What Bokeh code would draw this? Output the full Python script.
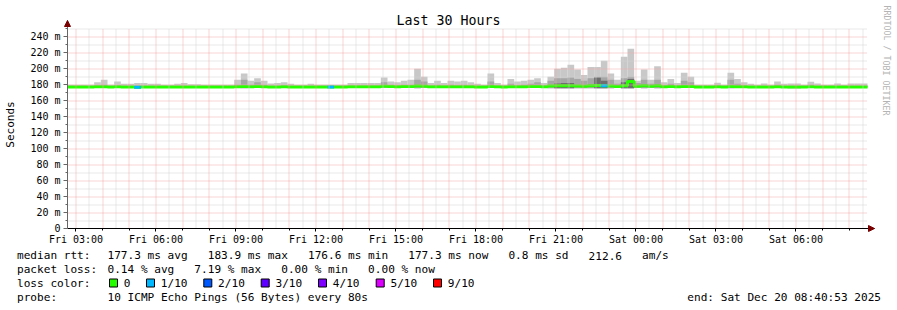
import re
import math
import datetime as dt
from bokeh.plotting import figure
from bokeh.models import (Range1d, FixedTicker, DatetimeTickFormatter, CustomJSTickFormatter,
                          Label, Arrow, NormalHead, BoxAnnotation)
from bokeh.embed import file_html
from bokeh.resources import INLINE

# ---------------- data ----------------
start = dt.datetime(2025, 12, 19, 2, 40, 53)
end = dt.datetime(2025, 12, 20, 8, 40, 53)
bin_minutes = 15  # 120 bins over 30 hours

# smoke (ping distribution) upper edge, ms
smoke_max = [
    180, 180, 180, 180, 183, 186, 180, 184, 181, 181,
    182, 182, 181, 181, 180, 180, 181, 182, 180.5, 180.5,
    180, 180, 180, 180, 180, 186, 194, 185, 188, 185,
    181.5, 182, 183, 181, 180, 180, 181, 180, 180, 180,
    180, 180, 182, 182, 182, 182, 182, 189, 184, 183,
    185, 186, 200, 190, 182, 185, 182, 185, 184, 185,
    183, 181, 180, 194, 182, 180, 187, 184, 185, 186,
    188, 182, 190, 200, 201, 205, 199, 192, 202, 202,
    210, 194, 186, 215, 225, 185, 199, 186, 203, 183,
    187, 182, 195, 190, 180, 180, 180, 182.5, 180, 195,
    187, 183, 181, 180, 181.5, 180, 184, 181, 181.5, 181.5,
    180, 183.5, 181.5, 180, 180, 181.5, 180, 181.5, 181.5, 181.5,
]
# denser inner part of the smoke, ms
smoke_mid = [
    178.5, 178.5, 178.5, 178.5, 179, 180, 178.5, 179, 178.5, 178.5,
    178.5, 178.5, 178.5, 178.5, 178.5, 178.5, 178.5, 178.5, 178.5, 178.5,
    178.5, 178.5, 178.5, 178.5, 178.5, 180, 186, 180, 183, 180,
    178.5, 178.5, 179, 178.5, 178.5, 178.5, 178.5, 178.5, 178.5, 178.5,
    178.5, 178.5, 178.5, 178.5, 178.5, 178.5, 178.5, 183, 180, 179,
    180, 180, 186, 184, 178.5, 180, 178.5, 180, 179, 180,
    179, 178.5, 178.5, 184, 178.5, 178.5, 181, 179, 180, 181,
    183, 179, 185, 188, 188, 189, 187, 185, 188, 190,
    190, 186, 181, 188, 190, 182, 186, 181, 186, 179,
    181, 179, 185, 183, 178.5, 178.5, 178.5, 179, 178.5, 186,
    181, 179, 178.5, 178.5, 178.5, 178.5, 180, 178.5, 178.5, 178.5,
    178.5, 180, 178.5, 178.5, 178.5, 178.5, 178.5, 178.5, 178.5, 178.5,
]
# densest core of the smoke, ms (equal to smoke_min where there is none)
smoke_dark = [
    176.5, 176.5, 176.5, 176.5, 176, 176, 176.5, 176, 176.5, 176.5,
    176, 176, 176.5, 176.5, 176.5, 176.5, 176.5, 176.5, 176.5, 176.5,
    176.5, 176.5, 176.5, 176.5, 176.5, 176, 175.5, 176, 176, 176,
    176.5, 176.5, 176.5, 176.5, 176.5, 176.5, 176.5, 176.5, 176.5, 176,
    176.5, 176.5, 176.5, 176.5, 176.5, 176.5, 176.5, 176, 176, 176,
    176, 176, 175.5, 176, 176.5, 176, 176.5, 176, 176, 176,
    176, 176.5, 176.5, 176, 176.5, 176.5, 176, 176, 176, 176,
    176, 176, 175.5, 181.5, 182, 182, 175.5, 175.5, 175.5, 189,
    185, 175.5, 176, 183, 187, 176, 175.5, 176, 175.5, 176,
    176, 176.5, 176, 176, 176.5, 176.5, 176.5, 176.5, 176.5, 175.5,
    176, 176.5, 176.5, 176.5, 176.5, 176.5, 176, 176.5, 175.5, 175.5,
    176.5, 176, 176.5, 176.5, 176.5, 176.5, 176.5, 176.5, 176.5, 176.5,
]
# smoke lower edge, ms
smoke_min = [
    176.5, 176.5, 176.5, 176.5, 176, 176, 176.5, 176, 176.5, 176.5,
    176, 176, 176.5, 176.5, 176.5, 176.5, 176.5, 176.5, 176.5, 176.5,
    176.5, 176.5, 176.5, 176.5, 176.5, 176, 175.5, 176, 176, 176,
    176.5, 176.5, 176.5, 176.5, 176.5, 176.5, 176.5, 176.5, 176.5, 176,
    176.5, 176.5, 176.5, 176.5, 176.5, 176.5, 176.5, 176, 176, 176,
    176, 176, 175.5, 176, 176.5, 176, 176.5, 176, 176, 176,
    176, 176.5, 176.5, 176, 176.5, 176.5, 176, 176, 176, 176,
    176, 176, 175.5, 175.5, 175.5, 175.5, 175.5, 175.5, 175.5, 175.5,
    175.5, 175.5, 176, 175.5, 175.5, 176, 175.5, 176, 175.5, 176,
    176, 176.5, 176, 176, 176.5, 176.5, 176.5, 176.5, 176.5, 175.5,
    176, 176.5, 176.5, 176.5, 176.5, 176.5, 176, 176.5, 175.5, 175.5,
    176.5, 176, 176.5, 176.5, 176.5, 176.5, 176.5, 176.5, 176.5, 176.5,
]
# median rtt, ms
median = [
    177.2, 177.2, 177.2, 177.2, 177.3, 177.3, 177.2, 177.3, 177.2, 177.2,
    176.8, 177.2, 177.2, 177.2, 177.2, 177.2, 177.2, 177.2, 177.2, 177.2,
    177.2, 177.0, 177.2, 177.2, 177.2, 177.5, 177.8, 177.5, 177.6, 177.4,
    177.2, 177.2, 177.3, 177.2, 177.2, 177.2, 177.2, 177.2, 177.2, 176.9,
    177.2, 177.2, 177.3, 177.3, 177.3, 177.3, 177.3, 178.0, 177.6, 177.5,
    177.6, 177.6, 178.2, 178.0, 177.3, 177.5, 177.3, 177.5, 177.4, 177.5,
    177.4, 177.2, 177.2, 177.6, 177.3, 177.2, 177.5, 177.4, 177.5, 177.6,
    177.8, 177.4, 178.2, 178.5, 178.5, 178.6, 178.3, 178.0, 178.5, 179.0,
    178.5, 178.2, 177.6, 178.5, 184.0, 178.0, 178.5, 178.0, 178.6, 177.5,
    177.6, 177.3, 177.8, 177.6, 177.2, 177.2, 177.2, 177.3, 177.2, 177.6,
    177.4, 177.3, 177.2, 177.2, 177.2, 177.2, 177.4, 177.2, 177.2, 177.2,
    177.2, 177.3, 177.2, 177.2, 177.2, 177.2, 177.2, 177.2, 177.2, 177.2,
]
# loss level per bin (index into loss_labels)
loss = [
    0, 0, 0, 0, 0, 0, 0, 0, 0, 0,
    1, 0, 0, 0, 0, 0, 0, 0, 0, 0,
    0, 0, 0, 0, 0, 0, 0, 0, 0, 0,
    0, 0, 0, 0, 0, 0, 0, 0, 0, 1,
    0, 0, 0, 0, 0, 0, 0, 0, 0, 0,
    0, 0, 0, 0, 0, 0, 0, 0, 0, 0,
    0, 0, 0, 0, 0, 0, 0, 0, 0, 0,
    0, 0, 0, 0, 0, 0, 0, 0, 0, 0,
    1, 0, 0, 0, 0, 0, 0, 0, 0, 0,
    0, 0, 0, 0, 0, 0, 0, 0, 0, 0,
    0, 0, 0, 0, 0, 0, 0, 0, 0, 0,
    0, 0, 0, 0, 0, 0, 0, 0, 0, 0,
]
loss_labels = ["0", "1/10", "2/10", "3/10", "4/10", "5/10", "9/10"]
loss_colors = ["#26ff00", "#00b8ff", "#0059ff", "#5e00ff", "#7e00ff", "#dd00ff", "#ff0000"]

y_ticks = [0, 20, 40, 60, 80, 100, 120, 140, 160, 180, 200, 220, 240]
y_minor = [10, 30, 50, 70, 90, 110, 130, 150, 170, 190, 210, 230, 250]
y_top = 250

title_text = "Last 30 Hours"
y_label = "Seconds"
side_text = "RRDTOOL / TOBI OETIKER"
legend_heads = ["median rtt:", "packet loss:", "loss color:", "probe:"]
legend_bodies = [
    "177.3 ms avg   183.9 ms max   176.6 ms min   177.3 ms now   0.8 ms sd   212.6   am/s",
    "0.14 % avg   7.19 % max   0.00 % min   0.00 % now",
    "",
    "10 ICMP Echo Pings (56 Bytes) every 80s",
]
end_text = "end: Sat Dec 20 08:40:53 2025"

# ---------------- geometry ----------------
EPOCH = dt.datetime(1970, 1, 1)


def ms(d):
    return (d - EPOCH).total_seconds() * 1000.0


W, H = 897, 310
FL, FB = 67, 228           # x-axis start / x-axis height in canvas pixels
PX_PER_MS_Y = 0.7992       # vertical scale (pixels per millisecond of rtt)
PX_PER_HOUR = 800 / 30.0   # horizontal scale
MONO = "DejaVu Sans Mono"
CHAR_W = 0.602 * 11.1

t0, t1 = ms(start), ms(end)
hour_ms = 3600e3
x_lo = t0 - FL / PX_PER_HOUR * hour_ms
x_hi = t0 + (W - FL) / PX_PER_HOUR * hour_ms
y_lo = -(H - FB) / PX_PER_MS_Y
y_hi = FB / PX_PER_MS_Y


def snap_x(t):
    # move a vertical grid line onto a pixel centre so its dots stay crisp
    px = (t - x_lo) / hour_ms * PX_PER_HOUR
    return x_lo + (math.floor(px) + 0.5) / PX_PER_HOUR * hour_ms


def snap_y(v):
    py = FB - v * PX_PER_MS_Y
    return (FB - (math.floor(py) + 0.5)) / PX_PER_MS_Y


n = len(smoke_max)
edges = [ms(start + dt.timedelta(minutes=bin_minutes * i)) for i in range(n + 1)]
left = edges[:-1]
right = edges[1:]

p = figure(width=W, height=H, x_axis_type="datetime",
           x_range=Range1d(x_lo, x_hi), y_range=Range1d(y_lo, y_hi),
           output_backend="svg", toolbar_location=None,
           min_border_left=0, min_border_right=0, min_border_top=0, min_border_bottom=0)
p.title.visible = False
p.outline_line_color = None
p.background_fill_color = "white"
p.border_fill_color = "white"
p.xgrid.visible = False
p.ygrid.visible = False

# smoke
p.quad(left=left, right=right, bottom=smoke_min, top=smoke_max,
       fill_color="#c8c8c8", line_color=None)
p.quad(left=left, right=right, bottom=smoke_min, top=smoke_mid,
       fill_color="#a6a6a6", line_color=None)
p.quad(left=left, right=right, bottom=smoke_min, top=smoke_dark,
       fill_color="#6e6e6e", line_color=None)

# median line, coloured by loss
p.step(x=edges, y=median + [median[-1]], mode="after",
       line_color=loss_colors[0], line_width=3)
lx0 = [left[i] for i in range(n) if loss[i] > 0]
lx1 = [right[i] for i in range(n) if loss[i] > 0]
ly = [median[i] for i in range(n) if loss[i] > 0]
lc = [loss_colors[loss[i]] for i in range(n) if loss[i] > 0]
p.segment(x0=lx0, y0=ly, x1=lx1, y1=ly, line_color=lc, line_width=3)

# ---------------- grid (dotted, rrdtool style) ----------------
hour0 = dt.datetime(2025, 12, 19, 3, 0)
hours = [hour0 + dt.timedelta(hours=h) for h in range(30)]
hours = [h for h in hours if h <= end]
label_hours = [ms(h) for h in hours if h.hour % 3 == 0]
hours_ms = [ms(h) for h in hours]
half_ms = [ms(h + dt.timedelta(minutes=30)) for h in hours if h + dt.timedelta(minutes=30) < end]

gx_minor = [snap_x(t) for t in half_ms]
gx_major = [snap_x(t) for t in hours_ms]
gy_minor = [snap_y(v) for v in y_minor]
gy_major = [snap_y(v) for v in y_ticks[1:]]

minor_col, major_col = "#d2d2d2", "#f2a6a6"
p.segment(x0=gx_minor, x1=gx_minor, y0=[0] * len(gx_minor), y1=[y_top] * len(gx_minor),
          line_color=minor_col, line_dash="1 1", line_width=1)
p.segment(x0=[t0] * len(gy_minor), x1=[t1] * len(gy_minor), y0=gy_minor, y1=gy_minor,
          line_color=minor_col, line_dash="1 1", line_width=1)
p.segment(x0=gx_major, x1=gx_major, y0=[0] * len(gx_major), y1=[y_top] * len(gx_major),
          line_color=major_col, line_dash="1 1", line_width=1)
p.segment(x0=[t0] * len(gy_major), x1=[t1] * len(gy_major), y0=gy_major, y1=gy_major,
          line_color=major_col, line_dash="1 1", line_width=1)

# ---------------- axes (drawn at fixed positions inside the canvas) ----------------
arrow_x = t1 + 7 / PX_PER_HOUR * hour_ms
arrow_y = (FB - 20) / PX_PER_MS_Y
p.xaxis.fixed_location = 0
p.yaxis.fixed_location = t0
p.xaxis.ticker = FixedTicker(ticks=label_hours, minor_ticks=hours_ms)
fmt = "%a %H:%M"
p.xaxis.formatter = DatetimeTickFormatter(hours=fmt, hourmin=fmt, days=fmt, minutes=fmt,
                                          minsec=fmt, seconds=fmt, months=fmt)
p.xaxis.bounds = (t0, arrow_x)
p.yaxis.ticker = FixedTicker(ticks=y_ticks, minor_ticks=y_minor)
p.yaxis.formatter = CustomJSTickFormatter(code="return tick == 0 ? '0' : tick + ' m';")
p.yaxis.bounds = (0, arrow_y)

for ax in (p.xaxis[0], p.yaxis[0]):
    ax.major_label_text_font = MONO
    ax.major_label_text_font_size = "10px"
    ax.major_label_text_color = "black"
    ax.major_tick_in = 0
    ax.minor_tick_in = 0
p.xaxis.axis_line_color = "black"
p.xaxis.major_tick_line_color = "black"
p.xaxis.minor_tick_line_color = "black"
p.xaxis.major_tick_out = 3
p.xaxis.minor_tick_out = 2
p.xaxis.major_label_standoff = 2
p.yaxis.axis_line_color = "#666666"
p.yaxis.major_tick_line_color = "#666666"
p.yaxis.minor_tick_line_color = "#666666"
p.yaxis.major_tick_out = 4
p.yaxis.minor_tick_out = 2
p.yaxis.major_label_standoff = 3
p.yaxis.axis_label = y_label
p.yaxis.axis_label_text_font = MONO
p.yaxis.axis_label_text_font_size = "11px"
p.yaxis.axis_label_text_font_style = "normal"
p.yaxis.axis_label_text_color = "black"
p.yaxis.axis_label_standoff = 10

# arrow heads at the axis ends
p.add_layout(Arrow(end=NormalHead(size=6, fill_color="#7a0000", line_color="#7a0000"),
                   x_start=t0, y_start=arrow_y - 5, x_end=t0, y_end=arrow_y,
                   line_alpha=0))
p.add_layout(Arrow(end=NormalHead(size=6, fill_color="#7a0000", line_color="#7a0000"),
                   x_start=arrow_x - hour_ms / 6, y_start=0, x_end=arrow_x, y_end=0,
                   line_alpha=0))


# ---------------- texts ----------------
def label(cx, cy, text, size="11.1px", align="left", color="black", angle=0.0):
    p.add_layout(Label(x=cx, y=H - cy, x_units="screen", y_units="screen",
                       text=text, text_font=MONO, text_font_size=size,
                       text_align=align, text_baseline="middle",
                       text_color=color, angle=angle))


def mono_line(cx, cy, text):
    # keep the fixed-width column layout: place each space-separated run on the char grid
    for m in re.finditer(r"\S+(?: \S+)*", text):
        label(cx + m.start() * CHAR_W, cy, m.group(0))


label(448, 20, title_text, size="13.3px", align="center")
label(886, 60, side_text, size="8.3px", align="center", color="#b4b4b4", angle=-1.5708)

line_y = [255, 268.5, 282.5, 296.5]
for head, body, yy in zip(legend_heads, legend_bodies, line_y):
    label(16.5, yy, head)
    if body:
        mono_line(107, yy, body)

box_x = [109, 146, 203.3, 260.7, 318, 375.7, 433]
for bx, lab, col in zip(box_x, loss_labels, loss_colors):
    p.add_layout(BoxAnnotation(left=bx, right=bx + 8,
                               top=H - (line_y[2] - 4), bottom=H - (line_y[2] + 4),
                               left_units="screen", right_units="screen",
                               top_units="screen", bottom_units="screen",
                               fill_color=col, fill_alpha=1.0,
                               line_color="black", line_width=1, line_alpha=1.0))
    label(bx + 14.3, line_y[2], lab)

label(880.5, line_y[3], end_text, align="right")

open("out.html", "w").write(file_html(p, INLINE))
